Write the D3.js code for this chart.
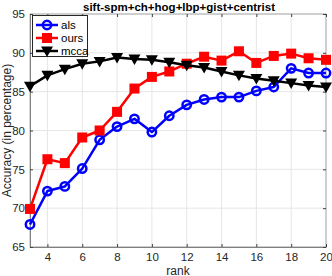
<!DOCTYPE html>
<html>
<head>
<meta charset="utf-8">
<script src="https://cdn.jsdelivr.net/npm/d3@7"></script>
<style>
  body { margin: 0; background: #fff; }
  svg { font-family: "Liberation Sans", Arial, sans-serif; }
</style>
</head>
<body>
<svg id="chart" width="332" height="276"></svg>
<script>
const ranks = [3, 4, 5, 6, 7, 8, 9, 10, 11, 12, 13, 14, 15, 16, 17, 18, 19, 20];
const als  = [67.9, 72.2, 72.8, 75.1, 78.8, 80.5, 81.5, 79.8, 81.9, 83.3, 84.0, 84.3, 84.3, 85.1, 85.6, 88.0, 87.4, 87.4];
const ours = [69.9, 76.3, 75.8, 79.1, 80.0, 82.4, 85.4, 86.9, 87.6, 88.6, 89.5, 89.0, 90.2, 88.7, 89.6, 89.9, 89.3, 89.1];
const mcca = [85.7, 87.1, 87.9, 88.6, 88.9, 89.4, 89.2, 89.1, 88.8, 88.4, 88.1, 87.6, 87.1, 86.7, 86.4, 86.1, 85.8, 85.6];
const xTicks = [4, 6, 8, 10, 12, 14, 16, 18, 20];
const yTicks = [65, 70, 75, 80, 85, 90, 95];

const series = [
    { name: "als", values: als, color: "#0000ff", marker: "circle" },
    { name: "ours", values: ours, color: "#ff0000", marker: "square" },
    { name: "mcca", values: mcca, color: "#000000", marker: "triangle" }
];

const svg = d3.select("#chart");
const mLeft = 30, mRight = 326, mTop = 14, mBottom = 247;

const x = d3.scaleLinear().domain([3, 20]).range([mLeft, mRight]);
const y = d3.scaleLinear().domain([65, 95]).range([mBottom, mTop]);

// grid
svg.append("g").selectAll("line").data(xTicks).enter().append("line")
    .attr("x1", d => x(d)).attr("x2", d => x(d)).attr("y1", mTop).attr("y2", mBottom)
    .attr("stroke", "#e6e6e6").attr("stroke-width", 1);
svg.append("g").selectAll("line").data(yTicks).enter().append("line")
    .attr("x1", mLeft).attr("x2", mRight).attr("y1", d => y(d)).attr("y2", d => y(d))
    .attr("stroke", "#e6e6e6").attr("stroke-width", 1);

// axes box
svg.append("rect").attr("x", mLeft).attr("y", mTop).attr("width", mRight - mLeft).attr("height", mBottom - mTop)
    .attr("fill", "none").attr("stroke", "#262626").attr("stroke-opacity", 0.35).attr("stroke-width", 1);

const xAxis = svg.append("g").attr("transform", `translate(0,${mBottom})`)
    .call(d3.axisBottom(x).tickValues(xTicks).tickSizeInner(-3).tickSizeOuter(0).tickPadding(6));
const yAxis = svg.append("g").attr("transform", `translate(${mLeft},0)`)
    .call(d3.axisLeft(y).tickValues(yTicks).tickSizeInner(-3).tickSizeOuter(0).tickPadding(5));
[xAxis, yAxis].forEach(a => {
    a.select(".domain").attr("stroke", "#808080");
    a.selectAll(".tick line").attr("stroke", "#404040");
    a.selectAll("text").attr("fill", "#262626").style("font-size", "11.5px").style("font-family", "Liberation Sans, Arial, sans-serif");
});
svg.append("g").attr("transform", `translate(0,${mTop})`)
    .call(d3.axisTop(x).tickValues(xTicks).tickSizeInner(-3).tickSizeOuter(0).tickFormat(""))
    .call(g => { g.select(".domain").remove(); g.selectAll("line").attr("stroke", "#404040"); });
svg.append("g").attr("transform", `translate(${mRight},0)`)
    .call(d3.axisRight(y).tickValues(yTicks).tickSizeInner(-3).tickSizeOuter(0).tickFormat(""))
    .call(g => { g.select(".domain").remove(); g.selectAll("line").attr("stroke", "#404040"); });

function drawMarker(g, type, color, cx, cy) {
    if (type === "circle") {
        g.append("circle").attr("cx", cx).attr("cy", cy).attr("r", 4.2)
            .attr("fill", "none").attr("stroke", color).attr("stroke-width", 2.5);
    } else if (type === "square") {
        g.append("rect").attr("x", cx - 5).attr("y", cy - 5).attr("width", 10).attr("height", 10)
            .attr("fill", color);
    } else {
        g.append("path").attr("d", `M${cx - 6},${cy - 4.5}L${cx + 6},${cy - 4.5}L${cx},${cy + 6}Z`)
            .attr("fill", color);
    }
}

const line = d3.line().x((d, i) => x(ranks[i])).y(d => y(d));
series.forEach(s => {
    const g = svg.append("g");
    g.append("path").datum(s.values).attr("d", line)
        .attr("fill", "none").attr("stroke", s.color).attr("stroke-width", 2.5).attr("stroke-linejoin", "round");
    s.values.forEach((v, i) => drawMarker(g, s.marker, s.color, x(ranks[i]), y(v)));
});

// legend
const lg = svg.append("g");
lg.append("rect").attr("x", 32.5).attr("y", 15.5).attr("width", 55).attr("height", 41)
    .attr("fill", "#fff").attr("stroke", "#262626").attr("stroke-width", 1);
series.forEach((s, i) => {
    const ly = 25 + i * 13;
    lg.append("line").attr("x1", 36).attr("x2", 58).attr("y1", ly).attr("y2", ly)
        .attr("stroke", s.color).attr("stroke-width", 2.5);
    drawMarker(lg, s.marker, s.color, 47, ly);
    lg.append("text").attr("x", 61).attr("y", ly + 4).text(s.name)
        .attr("fill", "#000").style("font-size", "11.5px");
});

// title & labels
svg.append("text").attr("x", (mLeft + mRight) / 2 + 1).attr("y", 11).attr("text-anchor", "middle")
    .style("font-size", "11.5px").style("font-weight", "bold").attr("fill", "#000")
    .text("sift-spm+ch+hog+lbp+gist+centrist");
svg.append("text").attr("x", (mLeft + mRight) / 2).attr("y", 274.5).attr("text-anchor", "middle")
    .style("font-size", "12px").attr("fill", "#262626").text("rank");
svg.append("text").attr("transform", `translate(11,${(mTop + mBottom) / 2}) rotate(-90)`)
    .attr("text-anchor", "middle").style("font-size", "12px").attr("fill", "#262626")
    .text("Accuracy (in percentage)");
</script>
</body>
</html>
